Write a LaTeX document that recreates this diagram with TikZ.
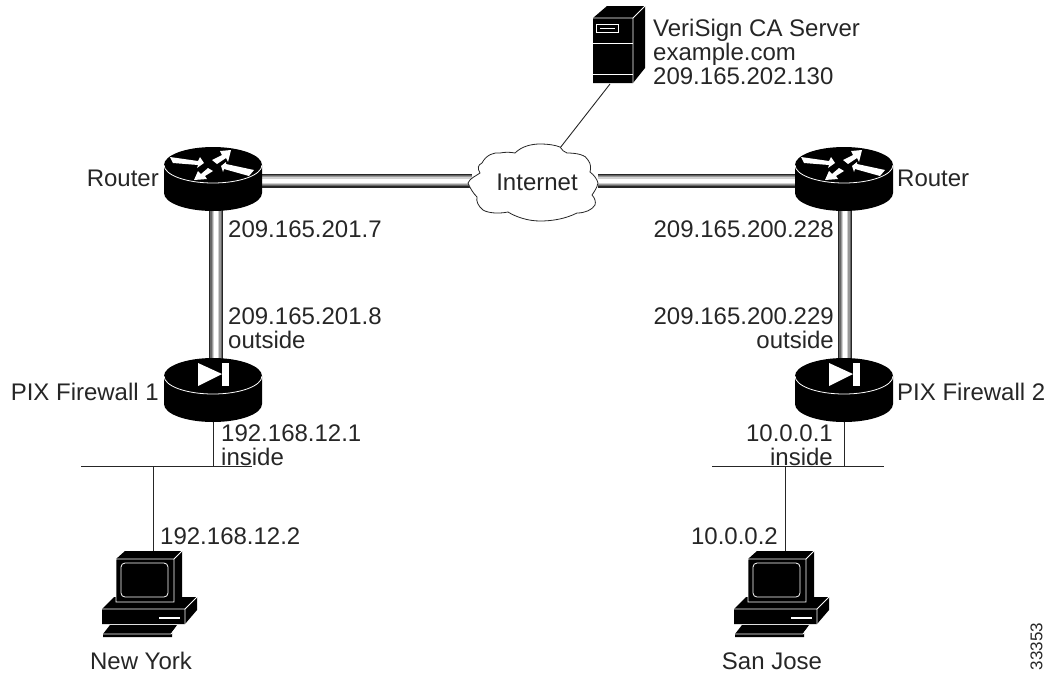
\documentclass[tikz,border=0pt]{standalone}
\usepackage{fontspec}
\setmainfont{Liberation Sans}

\tikzset{
	addr/.style={font=\fontsize{24}{23.8}\selectfont, text=black!85, inner sep=0pt, align=left},
	wire/.style={line width=0.9pt, black!85},
	pipe/.style={line width=14pt, black!85,
		postaction={draw, line width=11.5pt, black!60},
		postaction={draw, line width=9pt, black!40},
		postaction={draw, line width=6.5pt, black!18},
		postaction={draw, line width=4pt, white}},
	whiteline/.style={draw=white, line width=0.8pt, fill=none},
	puck/.pic={
		\fill[black] (-49,0) -- (-49,28) arc[start angle=180, end angle=360, x radius=49pt, y radius=18pt] -- (49,0) -- cycle;
		\fill[black] (0,0) ellipse[x radius=49pt, y radius=18pt];
		\draw[whiteline] (-49,0) arc[start angle=180, end angle=360, x radius=49pt, y radius=18pt];
	},
	router/.pic={
		\pic {puck};
		\fill[white] (-43,-8) -- (-15,-4) -- (-13,-8) -- (-9,-2) -- (-16,3) -- (-15,0) -- (-40,-2) -- cycle;
		\fill[white] (-1,-5) -- (9,-10) -- (7,-14) -- (18,-15) -- (15,-3) -- (13,-7) -- (4,-1) -- cycle;
		\fill[white] (8,1) -- (13,-3) -- (13,-1) -- (41,5) -- (36,11) -- (11,4) -- (10,7) -- cycle;
		\fill[white] (-19,15) -- (-15,6) -- (-12,9) -- (-5,3) -- (0,6) -- (-8,11) -- (-6,14) -- cycle;
	},
	firewall/.pic={
		\pic {puck};
		\fill[white] (-15,-13) -- (9,-2) -- (-15,10) -- cycle;
		\fill[white] (9,-13) rectangle (16,10);
	},
	workstation/.pic={
		\fill[black] (-37,-21) -- (-28,-29) -- (29,-29) -- (29,19) -- (21,22) -- (-37,22) -- cycle;
		\fill[black] (-51,29) -- (-39,17) -- (44,17) -- (44,30) -- (32,44) -- (-51,44) -- cycle;
		\fill[black] (-37,-21) rectangle (21,22);
		\draw[whiteline] (-37,22) -- (-37,-21) -- (21,-21) -- (21,22) -- cycle (21,-21) -- (29,-29);
		\draw[whiteline] (-51,29) -- (32,29) -- (44,17) (32,29) -- (32,44);
		\draw[whiteline, rounded corners=4pt] (-32,-17) rectangle (15,17);
		\draw[white, line width=1.2pt] (6,38) -- (27,38);
		\fill[black] (-43,45) -- (24,45) -- (19,52) -- (19,57) -- (-50,57) -- (-50,54) -- cycle;
		\draw[whiteline] (-50,54) -- (18,54) -- (24,47);
	},
	server/.pic={
		\fill[black] (-20,-27) -- (-6,-39) -- (32,-39) -- (32,23) -- (20,38) -- (-20,38) -- cycle;
		\draw[whiteline] (-20,-27) -- (20,-27) -- (32,-39) (20,-27) -- (20,38);
		\draw[whiteline] (-20,-2) -- (20,-2) (-20,29) -- (20,29);
		\draw[whiteline] (-17,-21) rectangle (5,-13);
		\draw[white, line width=1pt] (-13,-17) -- (2,-17);
	},
}

\begin{document}
\begin{tikzpicture}[x=1pt, y=-1pt]

	\useasboundingbox (0,0) rectangle (1049,673);

	% hubs
	\coordinate (routerA) at (213,165);
	\coordinate (routerB) at (844,165);
	\coordinate (pixA) at (213,376);
	\coordinate (pixB) at (844,376);
	\coordinate (serverCA) at (613,45);
	\coordinate (serverFoot) at (610,84);
	\coordinate (tapServer) at (560,148);
	\coordinate (cloudL) at (472,180.5);
	\coordinate (cloudR) at (598,180.5);
	\coordinate (routerAE) at (255,180.5);
	\coordinate (routerBW) at (802,180.5);
	\coordinate (routerAS) at (216,200);
	\coordinate (routerBS) at (845,200);
	\coordinate (pixAN) at (216,370);
	\coordinate (pixBN) at (845,370);

	% lan segments
	\coordinate (lanA1) at (81,466);
	\coordinate (lanA2) at (252,466);
	\coordinate (lanB1) at (712,466);
	\coordinate (lanB2) at (884,466);
	\coordinate (tapA) at (213,466);
	\coordinate (tapB) at (844,466);
	\coordinate (dropA) at (153,466);
	\coordinate (dropB) at (785,466);
	\coordinate (hostA) at (153,580);
	\coordinate (hostB) at (785,580);
	\coordinate (hostAtop) at (153,551);
	\coordinate (hostBtop) at (785,551);

	\draw[pipe] (routerAE) -- (cloudL);
	\draw[pipe] (cloudR) -- (routerBW);
	\draw[pipe] (routerAS) -- (pixAN);
	\draw[pipe] (routerBS) -- (pixBN);

	\draw[wire] (serverFoot) -- (tapServer);
	\draw[wire] (lanA1) -- (lanA2);
	\draw[wire] (lanB1) -- (lanB2);
	\draw[wire] (pixA) -- (tapA);
	\draw[wire] (pixB) -- (tapB);
	\draw[wire] (dropA) -- (hostAtop);
	\draw[wire] (dropB) -- (hostBtop);

	\pic at (routerA) {router};
	\pic at (routerB) {router};
	\pic at (pixA) {firewall};
	\pic at (pixB) {firewall};
	\pic at (hostA) {workstation};
	\pic at (hostB) {workstation};
	\pic at (serverCA) {server};

	\draw[black!85, line width=0.8pt, fill=white] (468,183)
		.. controls (470,178) and (476,176) .. (480,173)
		.. controls (477,168) and (478,165) .. (482,163)
		.. controls (486,155) and (494,152) .. (500,153)
		.. controls (505,152) and (510,152) .. (515,153)
		.. controls (522,146) and (532,144) .. (540,144)
		.. controls (548,144) and (555,145) .. (560,147)
		.. controls (562,150) and (564,152) .. (567,153)
		.. controls (577,153) and (586,155) .. (588,160)
		.. controls (591,164) and (591,168) .. (590,172)
		.. controls (594,175) and (597,179) .. (598,183)
		.. controls (597,188) and (594,192) .. (592,195)
		.. controls (595,198) and (596,202) .. (595,205)
		.. controls (592,210) and (585,213) .. (577,213)
		.. controls (565,219) and (552,221) .. (540,221)
		.. controls (528,221) and (516,217) .. (508,212)
		.. controls (498,214) and (488,213) .. (483,210)
		.. controls (478,206) and (476,201) .. (477,197)
		.. controls (473,193) and (470,188) .. (468,183) -- cycle;

	% addresses
	\node[addr, anchor=center] (cloudText) at (537,182) {Internet};
	\node[addr, anchor=north west] (serverText) at (653,19) {VeriSign CA Server\\example.com\\209.165.202.130};
	\node[addr, anchor=east] (routerAText) at (159,178) {Router};
	\node[addr, anchor=west] (routerBText) at (897,178) {Router};
	\node[addr, anchor=west] (addrA1) at (228,229) {209.165.201.7};
	\node[addr, anchor=east] (addrB1) at (834,229) {209.165.200.228};
	\node[addr, anchor=north west] (addrA2) at (228,308) {209.165.201.8\\outside};
	\node[addr, anchor=north east, align=right] (addrB2) at (834,308) {209.165.200.229\\outside};
	\node[addr, anchor=east] (pixAText) at (159,392) {PIX Firewall 1};
	\node[addr, anchor=west] (pixBText) at (897,392) {PIX Firewall 2};
	\node[addr, anchor=north west] (addrA3) at (221,425) {192.168.12.1\\inside};
	\node[addr, anchor=north east, align=right] (addrB3) at (833,425) {10.0.0.1\\inside};
	\node[addr, anchor=west] (addrA4) at (160,536) {192.168.12.2};
	\node[addr, anchor=east] (addrB4) at (778,536) {10.0.0.2};
	\node[addr, anchor=center] (nameA) at (141,661) {New York};
	\node[addr, anchor=center] (nameB) at (772,661) {San Jose};
	\node[font=\fontsize{17}{20}\selectfont, text=black!85, inner sep=0pt, rotate=90] (figNo) at (1036.5,646.5) {33353};

\end{tikzpicture}
\end{document}
